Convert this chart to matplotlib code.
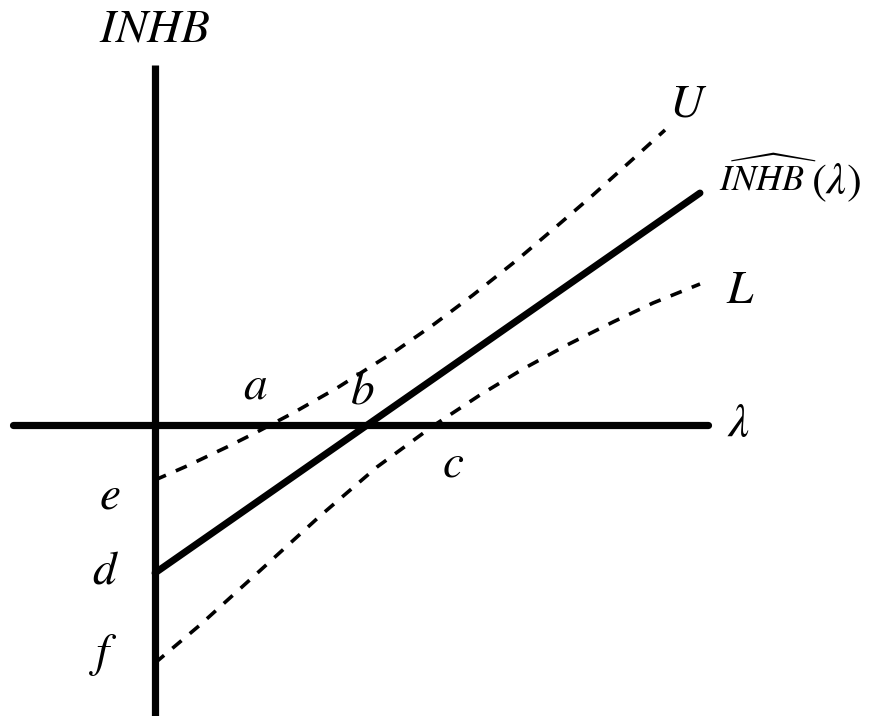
import matplotlib
matplotlib.use("Agg")
import matplotlib.pyplot as plt

plt.rcParams["mathtext.fontset"] = "stix"
plt.rcParams["font.family"] = "STIXGeneral"

# point estimate of the incremental net health benefit (straight line)
inhb_lam = [0.0, 5.45]
inhb_val = [-1.48, 2.32]

# upper confidence limit U
upper_lam = [0.0, 0.32, 0.72, 1.02, 1.38, 1.82, 2.42, 2.78, 3.18, 3.62, 4.02, 4.38, 4.78, 5.10]
upper_val = [-0.55, -0.41, -0.22, -0.07, 0.12, 0.37, 0.75, 1.00, 1.30, 1.65, 1.99, 2.30, 2.66, 2.95]

# lower confidence limit L
lower_lam = [0.0, 0.45, 0.98, 1.65, 2.22, 2.78, 3.25, 3.68, 4.12, 4.58, 4.98, 5.45]
lower_val = [-2.38, -2.00, -1.52, -0.91, -0.42, -0.01, 0.30, 0.56, 0.80, 1.03, 1.22, 1.41]

# axis extents
lam_axis = [-1.42, 5.53]
inhb_axis = [-2.95, 3.60]

fig = plt.figure(figsize=(8.71, 7.16), dpi=100)
ax = fig.add_axes([0, 0, 1, 1])
ax.set_xlim(-1.55, 7.16)
ax.set_ylim(-2.91, 4.25)
ax.axis("off")

ax.plot(lam_axis, [0, 0], color="black", lw=5.2, solid_capstyle="round")
ax.plot([0, 0], inhb_axis, color="black", lw=5.2, solid_capstyle="butt")

ax.plot(inhb_lam, inhb_val, color="black", lw=5.0, solid_capstyle="round")
ax.plot(upper_lam, upper_val, color="black", lw=2.6, linestyle=(0, (3.3, 3.0)))
ax.plot(lower_lam, lower_val, color="black", lw=2.6, linestyle=(0, (3.3, 3.0)))

fs = 34
ax.text(0.0, 3.95, "$INHB$", fontsize=fs, ha="center", va="center")
ax.text(5.33, 3.20, "$U$", fontsize=fs, ha="center", va="center")
ax.text(5.64, 2.47, r"$\widehat{INHB}$", fontsize=26, ha="left", va="center")
ax.text(6.56, 2.42, r"$(\lambda)$", fontsize=32, ha="left", va="center")
ax.text(5.85, 1.33, "$L$", fontsize=fs, ha="center", va="center")
ax.text(5.83, 0.0, r"$\lambda$", fontsize=fs, ha="center", va="center")
ax.text(1.00, 0.38, "$a$", fontsize=fs, ha="center", va="center")
ax.text(2.07, 0.33, "$b$", fontsize=fs, ha="center", va="center")
ax.text(2.98, -0.40, "$c$", fontsize=fs, ha="center", va="center")
ax.text(-0.45, -0.72, "$e$", fontsize=fs, ha="center", va="center")
ax.text(-0.50, -1.47, "$d$", fontsize=fs, ha="center", va="center")
ax.text(-0.52, -2.30, "$f$", fontsize=fs, ha="center", va="center")

fig.savefig("out.png", dpi=100)
